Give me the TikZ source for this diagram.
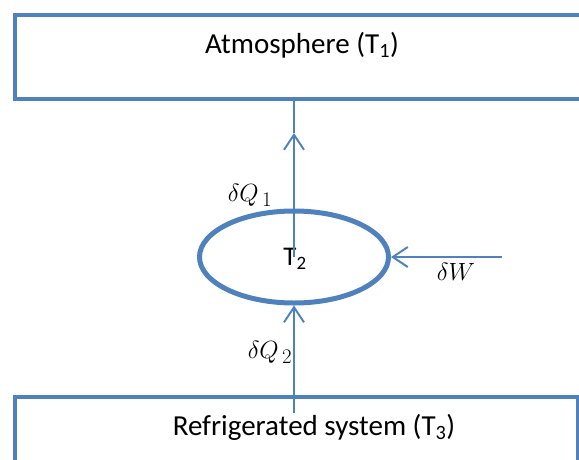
\documentclass[tikz,border=0pt]{standalone}
\usepackage{fontspec}
\setmainfont{Carlito}
\usetikzlibrary{arrows.meta,shapes.geometric}
\definecolor{ob}{HTML}{4F81BD}
\tikzset{
  boxline/.style={draw=ob,line width=4.2pt,minimum width=#1,inner sep=0pt},
  flow/.style={draw=ob,line width=2pt,-{Straight Barb[length=15pt,width=20pt]}},
  plain/.style={draw=ob,line width=2pt},
  txt/.style={font=\fontsize{29}{34}\selectfont,inner sep=0pt},
  mth/.style={font=\fontsize{30}{34}\selectfont,inner sep=0pt}
}
\begin{document}
\begin{tikzpicture}[x=1pt,y=-1pt]
\useasboundingbox (0,0) rectangle (579,459);
\begin{scope}
\clip (0,0) rectangle (579,459);
\node[boxline=600pt,minimum height=84pt,anchor=north west] (atm) at (13,13) {};
\node[boxline=563pt,minimum height=90pt,anchor=north west] (ref) at (13,395) {};
\end{scope}
\node[txt] (atmt) at (302,45) {Atmosphere (T\textsubscript{1})};
\node[txt] (reft) at (314,427) {Refrigerated system (T\textsubscript{3})};
\node[draw=ob,line width=5pt,ellipse,minimum width=189pt,minimum height=92pt,inner sep=0pt] (ell) at (294,257) {};
\node[txt,font=\fontsize{27}{30}\selectfont] (t2) at (295,259) {T\textsubscript{2}};
\coordinate (m1) at (294,133);
\coordinate (atmb) at (294,97);
\coordinate (b0) at (294,413);
\coordinate (w0) at (502,257);
\draw[flow] (ell.center) -- (m1);
\draw[plain] (m1) -- (atmb);
\draw[flow] (b0) -- (ell.south);
\draw[flow] (w0) -- (ell.east);
\node[mth] (q1) at (250,195) {$\delta Q_{\,1}$};
\node[mth] (q2) at (270,352) {$\delta Q_{\,2}$};
\node[mth] (w) at (456,272) {$\delta W$};
\end{tikzpicture}
\end{document}
